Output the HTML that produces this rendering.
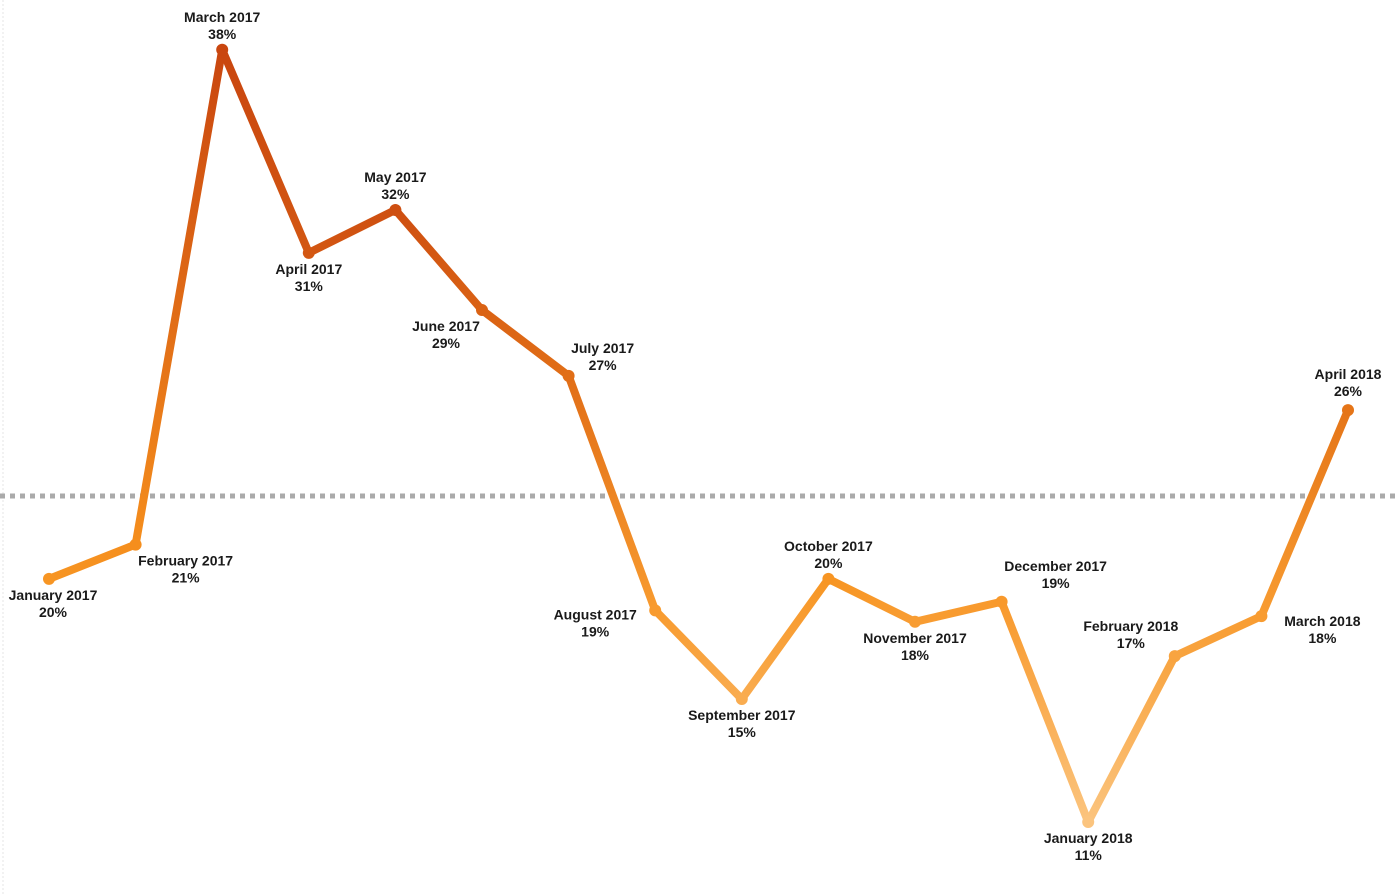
<!DOCTYPE html>
<html><head><meta charset="utf-8"><style>
html,body{margin:0;padding:0;background:#fff;}
svg{display:block;font-family:"Liberation Sans",sans-serif;}
</style></head><body>
<svg id="chart" width="1400" height="894">
<defs id="defs"></defs>
<line x1="3" y1="0" x2="3" y2="894" stroke="#e6e6e6" stroke-width="1" stroke-dasharray="2 2"/>
<g id="avg"></g><g id="lines"></g><g id="pts"></g><g id="labels"></g>
</svg>
<script>
const categories=["January 2017","February 2017","March 2017","April 2017","May 2017","June 2017","July 2017","August 2017","September 2017","October 2017","November 2017","December 2017","January 2018","February 2018","March 2018","April 2018"];
const values=[19.5,20.7,38,30.9,32.4,28.9,26.6,18.4,15.3,19.5,18.0,18.7,11,16.8,18.2,25.4];
const valueLabels=["20%","21%","38%","31%","32%","29%","27%","19%","15%","20%","18%","19%","11%","17%","18%","26%"];
const labelSide=["belowSlight","belowRight","above","below","above","belowLeftShort","aboveRight","belowLeft","below","above","below","aboveRightWide","below","aboveLeft","right","aboveHigh"];
const average=[22.4];
const NS="http://www.w3.org/2000/svg";
function xs(i){return 49+i*86.6;}
function ys(v){return 822-(v-11)*28.6;}
function lerp(a,b,t){return a.map((c,k)=>Math.round(c+(b[k]-c)*t));}
function col(v){
  const lo=[251,196,126],mid=[247,146,30],hi=[201,70,15];
  let c;
  if(v<=20)c=lerp(lo,mid,Math.max(0,(v-11)/9));
  else c=lerp(mid,hi,Math.min(1,(v-20)/14));
  return `rgb(${c[0]},${c[1]},${c[2]})`;
}
function mk(tag,attrs,parent){const e=document.createElementNS(NS,tag);for(const k in attrs)e.setAttribute(k,attrs[k]);parent.appendChild(e);return e;}
const defs=document.getElementById('defs');
const ay=ys(average[0]);
const al=mk('line',{x1:0,y1:ay,x2:1400,y2:ay,stroke:'#aaaaaa','stroke-width':5,'stroke-dasharray':'5 5'},document.getElementById('avg'));


const lg=document.getElementById('lines');
for(let i=0;i<values.length-1;i++){
  const x1=xs(i),y1=ys(values[i]),x2=xs(i+1),y2=ys(values[i+1]);
  const g=mk('linearGradient',{id:'g'+i,gradientUnits:'userSpaceOnUse',x1:x1,y1:y1,x2:x2,y2:y2},defs);
  mk('stop',{offset:0,'stop-color':col(values[i])},g);
  mk('stop',{offset:1,'stop-color':col(values[i+1])},g);
  const l=mk('line',{x1:x1,y1:y1,x2:x2,y2:y2,stroke:`url(#g${i})`,'stroke-width':8,'stroke-linecap':'round'},lg);
  
  
}
const pg=document.getElementById('pts'),tg=document.getElementById('labels');
values.forEach((v,i)=>{
  const x=xs(i),y=ys(v);
  const c=mk('circle',{cx:x,cy:y,r:6,fill:col(v)},pg);
  
  
  let lx=x,l1;
  const s=labelSide[i];
  if(s==='below'){l1=y+21;}
  else if(s==='belowSlight'){lx=x+4;l1=y+21;}
  else if(s==='belowRight'){lx=x+50;l1=y+21;}
  else if(s==='belowLeftShort'){lx=x-36;l1=y+21;}
  else if(s==='above'){l1=y-28;}
  else if(s==='aboveHigh'){lx=x;l1=y-31;}
  else if(s==='aboveRight'){lx=x+34;l1=y-23;}
  else if(s==='aboveRightWide'){lx=x+54;l1=y-31;}
  else if(s==='aboveLeft'){lx=x-44;l1=y-25;}
  else if(s==='belowLeft'){lx=x-60;l1=y+9;}
  else {lx=x+61;l1=y+10;}
  const t=mk('text',{x:lx,y:l1,'text-anchor':'middle','font-size':14,'font-weight':'bold',fill:'#1a1a1a'},tg);
  
  
  mk('tspan',{x:lx},t).textContent=categories[i];
  mk('tspan',{x:lx,dy:17},t).textContent=valueLabels[i];
});
</script>
</body></html>
